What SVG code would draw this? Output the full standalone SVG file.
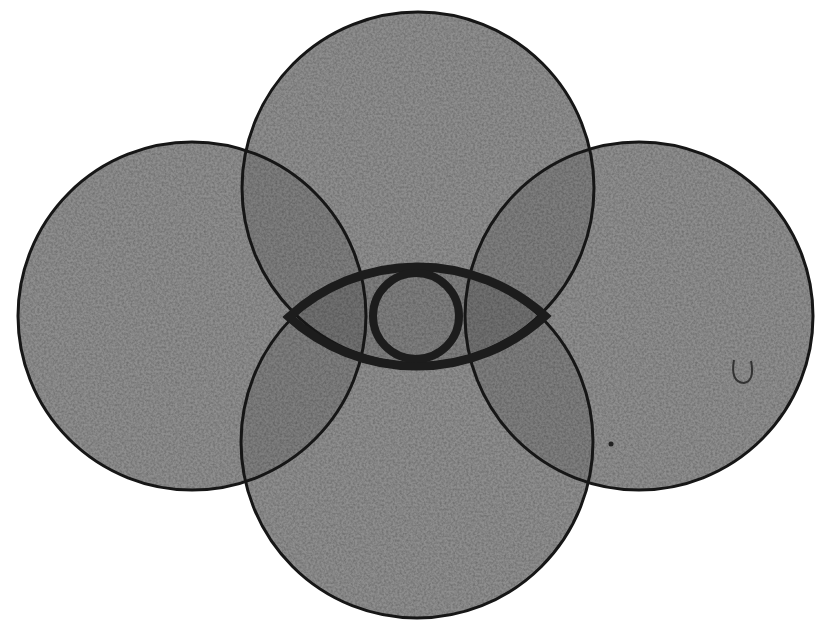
<svg xmlns="http://www.w3.org/2000/svg" width="816" height="629" viewBox="0 0 816 629">
  <defs>
    <style>
      .base { fill: #a0a0a0; stroke: none; }
      .shade { fill: #000; fill-opacity: 0.11; stroke: none; }
      .rim { fill: none; stroke: #161616; stroke-width: 3; }
      .eye { fill: none; stroke: #1c1c1c; stroke-width: 9; }
    </style>
    <filter id="grain" x="0" y="0" width="100%" height="100%">
      <feTurbulence type="fractalNoise" baseFrequency="0.45" numOctaves="2" seed="3" result="n"/>
      <feColorMatrix in="n" type="matrix" values="0 0 0 0 0  0 0 0 0 0  0 0 0 0 0  0 0 0 -1.1 0.75" result="a"/>
      <feComposite in="a" in2="SourceGraphic" operator="in"/>
    </filter>
    <clipPath id="allc">
      <circle cx="418" cy="188" r="176"/>
      <circle cx="192" cy="316" r="174"/>
      <circle cx="639" cy="316" r="174"/>
      <circle cx="417" cy="442" r="176"/>
    </clipPath>
  </defs>
  <rect width="816" height="629" fill="#ffffff"/>
  <g id="fills">
    <circle class="base" cx="418" cy="188" r="176"/>
    <circle class="base" cx="192" cy="316" r="174"/>
    <circle class="base" cx="639" cy="316" r="174"/>
    <circle class="base" cx="417" cy="442" r="176"/>
    <circle class="shade" cx="418" cy="188" r="176"/>
    <circle class="shade" cx="192" cy="316" r="174"/>
    <circle class="shade" cx="639" cy="316" r="174"/>
    <circle class="shade" cx="417" cy="442" r="176"/>
    <rect width="816" height="629" fill="#555" clip-path="url(#allc)" filter="url(#grain)" opacity="0.35"/>
  </g>
  <g id="circle-top"><circle class="rim" cx="418" cy="188" r="176"/></g>
  <g id="circle-left"><circle class="rim" cx="192" cy="316" r="174"/></g>
  <g id="circle-right"><circle class="rim" cx="639" cy="316" r="174"/></g>
  <g id="circle-bottom"><circle class="rim" cx="417" cy="442" r="176"/></g>
  <g id="eye">
    <path class="eye" d="M 289 317 A 190 190 0 0 1 545 316 A 190 190 0 0 1 289 317 Z"/>
    <circle cx="416" cy="316" r="43" fill="none" stroke="#1c1c1c" stroke-width="8"/>
  </g>
  <g id="marks">
    <path d="M 734 360 Q 730 382 744 383 Q 755 381 751 361" fill="none" stroke="#333" stroke-width="2"/>
    <circle cx="611" cy="444" r="2.5" fill="#222"/>
  </g>
</svg>
